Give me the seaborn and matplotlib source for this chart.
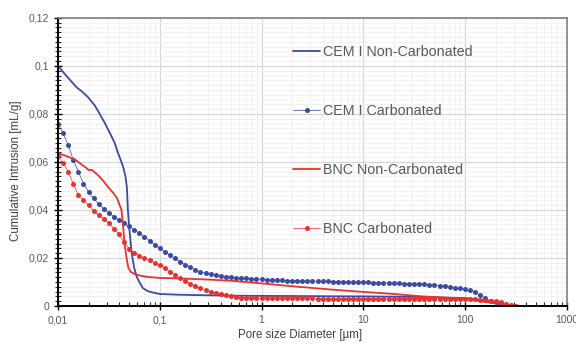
import numpy as np
import pandas as pd
import matplotlib
matplotlib.use("Agg")
import matplotlib.pyplot as plt
import matplotlib.ticker as mticker
import seaborn as sns

# --- dados (diâmetro em µm, intrusão em mL/g) ---
cem_nc_x = [0.0100, 0.0120, 0.0153, 0.0170, 0.0197, 0.0230, 0.0257, 0.0290, 0.0324, 0.0360,
            0.0387, 0.0420, 0.0440, 0.0460, 0.0475, 0.0486, 0.0500, 0.0530, 0.0560, 0.0595,
            0.0640, 0.0680, 0.0760, 0.0880, 0.100, 0.150, 0.250, 0.500, 1.00, 3.00,
            10.0, 30.0, 100, 150, 200, 260]
cem_nc_y = [0.1000, 0.0960, 0.0910, 0.0895, 0.0870, 0.0835, 0.0800, 0.0760, 0.0720, 0.0680,
            0.0640, 0.0600, 0.0575, 0.0540, 0.0496, 0.0400, 0.0330, 0.0220, 0.0160, 0.0120,
            0.0095, 0.0075, 0.0062, 0.0055, 0.0050, 0.0047, 0.0045, 0.0043, 0.0042, 0.0041,
            0.0040, 0.0038, 0.0033, 0.0025, 0.0014, 0.0000]

bnc_nc_x = [0.0100, 0.0120, 0.0147, 0.0170, 0.0190, 0.0200, 0.0215, 0.0246, 0.0280, 0.0310,
            0.0350, 0.0380, 0.0420, 0.0434, 0.0450, 0.0470, 0.0490, 0.0520, 0.0560, 0.0650,
            0.0760, 0.100, 0.150, 0.200, 0.300, 0.500, 1.00, 2.30, 5.00, 9.00,
            20.0, 38.0, 70.0, 100, 160, 230, 320]
bnc_nc_y = [0.0637, 0.0625, 0.0610, 0.0590, 0.0575, 0.0566, 0.0567, 0.0546, 0.0520, 0.0496,
            0.0470, 0.0450, 0.0400, 0.0346, 0.0260, 0.0204, 0.0160, 0.0142, 0.0134, 0.0126,
            0.0121, 0.0117, 0.0115, 0.0113, 0.0110, 0.0105, 0.0094, 0.0080, 0.0068, 0.0060,
            0.0050, 0.0040, 0.0034, 0.0030, 0.0017, 0.0008, 0.0000]

# pontos das amostras carbonatadas (mesma tabela de pressões)
carb_x = [0.0100, 0.0112, 0.0126, 0.0141, 0.0158, 0.0178, 0.0200, 0.0224, 0.0251, 0.0282,
          0.0316, 0.0355, 0.0398, 0.0447, 0.0501, 0.0562, 0.0631, 0.0708, 0.0794, 0.0891,
          0.100, 0.112, 0.126, 0.141, 0.158, 0.178, 0.200, 0.224, 0.251, 0.282,
          0.316, 0.355, 0.398, 0.447, 0.501, 0.562, 0.631, 0.708, 0.794, 0.891,
          1.00, 1.12, 1.26, 1.41, 1.58, 1.78, 2.00, 2.24, 2.51, 2.82,
          3.16, 3.55, 3.98, 4.47, 5.01, 5.62, 6.31, 7.08, 7.94, 8.91,
          10.0, 11.2, 12.6, 14.1, 15.8, 17.8, 20.0, 22.4, 25.1, 28.2,
          31.6, 35.5, 39.8, 44.7, 50.1, 56.2, 63.1, 70.8, 79.4, 89.1,
          100, 112, 126, 141, 158, 178, 200, 224, 251, 282, 316]

cem_c_y = [0.0760, 0.0720, 0.0670, 0.0610, 0.0560, 0.0510, 0.0475, 0.0448, 0.0424, 0.0405,
           0.0388, 0.0372, 0.0358, 0.0344, 0.0332, 0.0318, 0.0302, 0.0288, 0.0272, 0.0255,
           0.0240, 0.0226, 0.0212, 0.0198, 0.0185, 0.0172, 0.0161, 0.0150, 0.0142, 0.0136,
           0.0132, 0.0128, 0.0125, 0.0122, 0.0120, 0.0118, 0.0116, 0.0115, 0.0113, 0.0112,
           0.0111, 0.0110, 0.0109, 0.0108, 0.0107, 0.0106, 0.0106, 0.0105, 0.0104, 0.0104,
           0.0103, 0.0103, 0.0102, 0.0102, 0.0101, 0.0101, 0.0100, 0.0100, 0.0099, 0.0099,
           0.0098, 0.0098, 0.0097, 0.0097, 0.0096, 0.0096, 0.0095, 0.0094, 0.0093, 0.0093,
           0.0092, 0.0091, 0.0090, 0.0089, 0.0087, 0.0085, 0.0083, 0.0080, 0.0077, 0.0073,
           0.0069, 0.0065, 0.0058, 0.0045, 0.0032, 0.0022, 0.0015, 0.0009, 0.0005, 0.0001, np.nan]

bnc_c_y = [0.0625, 0.0595, 0.0560, 0.0510, 0.0462, 0.0440, 0.0420, 0.0396, 0.0378, 0.0362,
           0.0345, 0.0322, 0.0298, 0.0265, 0.0238, 0.0222, 0.0210, 0.0200, 0.0190, 0.0180,
           0.0170, 0.0158, 0.0142, 0.0128, 0.0115, 0.0104, 0.0093, 0.0083, 0.0074, 0.0066,
           0.0059, 0.0054, 0.0049, 0.0044, 0.0040, 0.0037, 0.0035, 0.0034, 0.0033, 0.0033,
           0.0032, 0.0032, 0.0032, 0.0032, 0.0032, 0.0032, 0.0032, 0.0032, 0.0032, 0.0032,
           0.0032, 0.0031, 0.0031, 0.0031, 0.0031, 0.0031, 0.0031, 0.0031, 0.0031, 0.0031,
           0.0031, 0.0031, 0.0031, 0.0031, 0.0031, 0.0030, 0.0030, 0.0030, 0.0030, 0.0030,
           0.0030, 0.0030, 0.0030, 0.0030, 0.0030, 0.0030, 0.0030, 0.0030, 0.0030, 0.0030,
           0.0030, 0.0029, 0.0028, 0.0027, 0.0025, 0.0022, 0.0019, 0.0015, 0.0010, 0.0005, 0.0000]

x_ticks = [0.01, 0.1, 1, 10, 100, 1000]
x_tick_labels = ["0,01", "0,1", "1", "10", "100", "1000"]
y_ticks = [0, 0.02, 0.04, 0.06, 0.08, 0.1, 0.12]
y_tick_labels = ["0", "0,02", "0,04", "0,06", "0,08", "0,1", "0,12"]

AZUL = "#3b4aa3"
VERMELHO = "#e8322f"
CINZA = "#595959"

sns.set_theme(style="white")
plt.rcParams["font.family"] = ["Liberation Sans", "DejaVu Sans"]

fig, ax = plt.subplots(figsize=(5.76, 3.44), dpi=100)
fig.subplots_adjust(left=0.1007, right=0.984, bottom=0.1105, top=0.948)

sns.lineplot(x=cem_nc_x, y=cem_nc_y, ax=ax, color=AZUL, linewidth=1.3,
             sort=False, estimator=None, label="CEM I Non-Carbonated")
sns.lineplot(x=carb_x, y=cem_c_y, ax=ax, color=AZUL, linewidth=0.5, marker="o",
             markersize=3.6, markeredgewidth=0, sort=False, estimator=None,
             label="CEM I Carbonated")
sns.lineplot(x=bnc_nc_x, y=bnc_nc_y, ax=ax, color=VERMELHO, linewidth=1.3,
             sort=False, estimator=None, label="BNC Non-Carbonated")
sns.lineplot(x=carb_x, y=bnc_c_y, ax=ax, color=VERMELHO, linewidth=0.5, marker="o",
             markersize=3.6, markeredgewidth=0, sort=False, estimator=None,
             label="BNC Carbonated")

ax.set_xscale("log")
ax.set_xlim(0.01, 1000)
ax.set_ylim(0, 0.12)
ax.set_xticks(x_ticks)
ax.set_xticklabels(x_tick_labels)
ax.set_yticks(y_ticks)
ax.set_yticklabels(y_tick_labels)
ax.xaxis.set_minor_locator(mticker.LogLocator(base=10, subs=np.arange(2, 10)))
ax.xaxis.set_minor_formatter(mticker.NullFormatter())
ax.yaxis.set_minor_locator(mticker.MultipleLocator(0.002))

# grade principal e secundária (estilo Excel)
ax.grid(which="major", color="#d4d4d4", linewidth=0.8)
ax.grid(which="minor", color="#f0f0f0", linewidth=0.6)
ax.set_axisbelow(True)

ax.tick_params(axis="both", which="major", labelsize=7.5, labelcolor=CINZA,
               color="black", width=1.0)
ax.tick_params(axis="y", which="major", direction="inout", length=6, left=True)
ax.tick_params(axis="y", which="minor", direction="inout", length=4, width=0.8, left=True)
ax.tick_params(axis="x", which="major", direction="inout", length=6, bottom=True)
ax.tick_params(axis="x", which="minor", direction="in", length=3, width=0.8, bottom=True)

for lado in ["left", "bottom"]:
    ax.spines[lado].set_color("black")
    ax.spines[lado].set_linewidth(1.4)
for lado in ["top", "right"]:
    ax.spines[lado].set_color("#808080")
    ax.spines[lado].set_linewidth(1.2)

ax.set_xlabel("Pore size Diameter [µm]", fontsize=8.3, color="#404040")
ax.set_ylabel("Cumulative Intrusion [mL/g]", fontsize=8.3, color="#404040")
ax.xaxis.set_label_coords(0.475, -0.08)
ax.yaxis.set_label_coords(-0.07, 0.47)

leg = ax.legend(loc="upper left", bbox_to_anchor=(0.462, 0.905), frameon=False,
                fontsize=10.3, labelspacing=3.15, handlelength=1.9, handletextpad=0.2,
                borderpad=0, borderaxespad=0)
for txt in leg.get_texts():
    txt.set_color(CINZA)

plt.savefig("out.png", dpi=100)
plt.close()
